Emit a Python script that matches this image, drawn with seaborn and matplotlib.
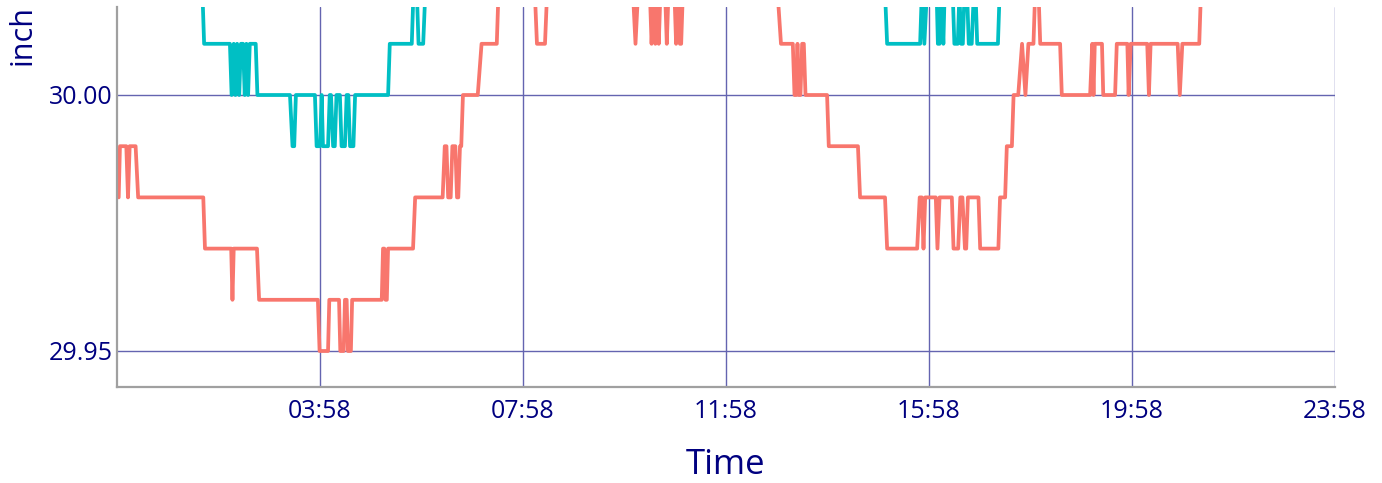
import matplotlib
matplotlib.use("Agg")
import matplotlib.pyplot as plt
import seaborn as sns
import pandas as pd

# pressure readings, minutes after midnight -> inch of mercury
red_minutes = [0, 1.5, 9, 11, 13, 20, 23, 100, 102, 133, 134.5, 136, 163.5, 166,
               235.5, 237.5, 247.5, 249, 260.5, 262, 266, 267.5, 269.5, 271, 274.5, 276,
               311, 312.5, 314, 315.5, 317, 318.5, 348, 350.5, 383, 385.5, 387.5, 389.5,
               392.5, 394.5, 398, 400, 401.5, 403.5, 405, 407, 424.5, 429, 447, 449,
               492, 494.5, 504, 506.5, 608, 611, 614, 628, 630, 632.5, 634.5, 636.5,
               638.5, 640.5, 646, 648, 650, 657, 659, 661.5, 663.5, 665, 667,
               779, 783, 797, 799, 801, 802.5, 804, 806, 808, 810, 812, 837.5, 839.5,
               874, 876.5, 906, 908.5, 944, 947, 949.5, 951.5, 953.5, 966, 968, 970.5,
               985, 987, 992.5, 995, 997.5, 1000.5, 1002, 1004, 1016.5, 1018.5, 1040,
               1042, 1048, 1050, 1056, 1058, 1063.5, 1068, 1072, 1075.5, 1081.5, 1083.5,
               1087.5, 1089.5, 1113, 1115, 1148.5, 1151, 1152.5, 1154, 1162.5, 1164,
               1178, 1180, 1192.5, 1194, 1196.5, 1216, 1218, 1220, 1252, 1254.5, 1257.5,
               1277.5, 1279.5, 1438]
red_inch = [29.98, 29.99, 29.99, 29.98, 29.99, 29.99, 29.98, 29.98, 29.97, 29.97, 29.96, 29.97, 29.97, 29.96,
            29.96, 29.95, 29.95, 29.96, 29.96, 29.95, 29.95, 29.96, 29.96, 29.95, 29.95, 29.96,
            29.96, 29.97, 29.97, 29.96, 29.96, 29.97, 29.97, 29.98, 29.98, 29.99, 29.99, 29.98,
            29.98, 29.99, 29.99, 29.98, 29.98, 29.99, 29.99, 30.00, 30.00, 30.01, 30.01, 30.02,
            30.02, 30.01, 30.01, 30.02, 30.02, 30.01, 30.02, 30.02, 30.01, 30.02, 30.01, 30.02,
            30.01, 30.02, 30.02, 30.01, 30.02, 30.02, 30.01, 30.02, 30.01, 30.01, 30.02,
            30.02, 30.01, 30.01, 30.00, 30.00, 30.01, 30.00, 30.00, 30.01, 30.01, 30.00, 30.00, 29.99,
            29.99, 29.98, 29.98, 29.97, 29.97, 29.98, 29.98, 29.97, 29.98, 29.98, 29.97, 29.98,
            29.98, 29.97, 29.97, 29.98, 29.98, 29.97, 29.97, 29.98, 29.98, 29.97, 29.97,
            29.98, 29.98, 29.99, 29.99, 30.00, 30.00, 30.01, 30.00, 30.01, 30.01, 30.02,
            30.02, 30.01, 30.01, 30.00, 30.00, 30.01, 30.00, 30.01, 30.01, 30.00,
            30.00, 30.01, 30.01, 30.00, 30.01, 30.01, 30.00, 30.01, 30.01, 30.00, 30.01,
            30.01, 30.02, 30.02]

cyan_minutes = [0, 99, 101, 131.5, 133.5, 136, 138, 140, 142.5, 144.5, 147, 149, 151, 153, 155,
                162, 164, 202.5, 205.5, 207.5, 209.5, 232, 234, 238, 240, 241.5, 247.5, 249.5,
                251, 253.5, 255.5, 257.5, 261.5, 263.5, 267.5, 269.5, 271.5, 273.5, 277.5, 279.5,
                318.5, 320.5, 346.5, 348.5, 352.5, 354.5, 360, 362.5, 906, 908.5, 947.5, 949.5,
                952.5, 955.5, 967, 968.5, 970.5, 972.5, 975, 976.5, 986, 988, 992, 994, 996, 998,
                1000, 1003, 1005, 1008.5, 1011, 1013, 1015, 1039.5, 1041.5, 1438]
cyan_inch = [30.02, 30.02, 30.01, 30.01, 30.00, 30.01, 30.00, 30.01, 30.00, 30.01, 30.01, 30.00, 30.01, 30.00, 30.01,
             30.01, 30.00, 30.00, 29.99, 29.99, 30.00, 30.00, 29.99, 29.99, 30.00, 29.99, 29.99, 30.00,
             30.00, 29.99, 29.99, 30.00, 30.00, 29.99, 29.99, 30.00, 30.00, 29.99, 29.99, 30.00,
             30.00, 30.01, 30.01, 30.02, 30.02, 30.01, 30.01, 30.02, 30.02, 30.01, 30.01, 30.02,
             30.01, 30.02, 30.02, 30.01, 30.01, 30.02, 30.01, 30.02, 30.02, 30.01, 30.01, 30.02, 30.01, 30.01,
             30.02, 30.02, 30.01, 30.01, 30.02, 30.02, 30.01, 30.01, 30.02, 30.02]

tick_minutes = [238, 478, 718, 958, 1198, 1438]
tick_labels = ["03:58", "07:58", "11:58", "15:58", "19:58", "23:58"]
y_ticks = [29.95, 30.00]
y_labels = ["29.95", "30.00"]

navy = "#000080"

df = pd.concat([
    pd.DataFrame({"minute": cyan_minutes, "inch": cyan_inch, "series": "b"}),
    pd.DataFrame({"minute": red_minutes, "inch": red_inch, "series": "a"}),
])

sns.set_theme(style="white")
plt.rcParams["font.family"] = ["Open Sans", "DejaVu Sans"]

fig = plt.figure(figsize=(13.82, 4.83), dpi=100)
ax = fig.add_axes([117 / 1382, 1 - 387 / 483, 1218 / 1382, 380 / 483])

sns.lineplot(data=df, x="minute", y="inch", hue="series", estimator=None, sort=False,
             palette={"a": "#F8766D", "b": "#00BFC4"}, linewidth=2.7, legend=False, ax=ax)

ax.set_xlim(-2, 1438)
ax.set_ylim(29.95 - 36 / 5120, 30.00 + 88 / 5120)
ax.set_xticks(tick_minutes, tick_labels)
ax.set_yticks(y_ticks, y_labels)
ax.grid(True, color="#6464b0", linewidth=1)
ax.set_axisbelow(True)
ax.tick_params(length=0, labelsize=18, labelcolor=navy)
ax.tick_params(axis="x", pad=9)
ax.tick_params(axis="y", pad=3)
for s in ["top", "right"]:
    ax.spines[s].set_visible(False)
for s in ["left", "bottom"]:
    ax.spines[s].set_color("#a0a0a0")
    ax.spines[s].set_linewidth(1.6)

ax.set_xlabel("Time", fontsize=25, color=navy, labelpad=17)
ax.set_ylabel("")
fig.text(23 / 1382, 1 - 5 / 483, "inch", rotation=90, va="top", ha="center",
         fontsize=22, color=navy)

fig.savefig("out.png", dpi=100)
